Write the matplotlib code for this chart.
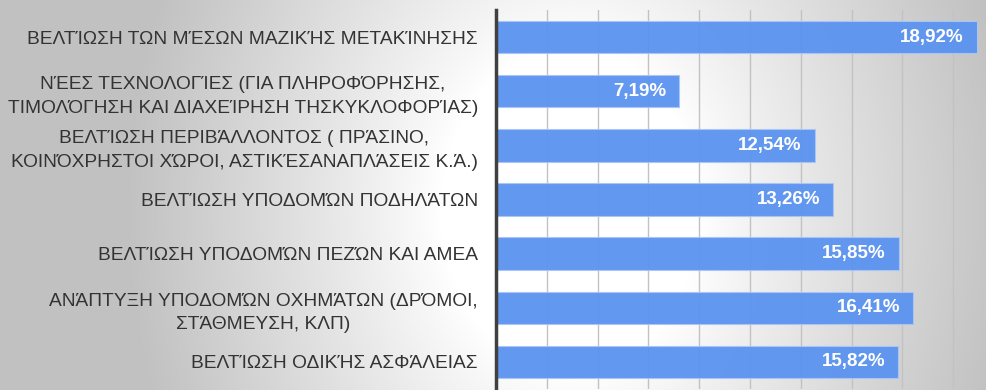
import numpy as np
import matplotlib.pyplot as plt

plt.rcParams['font.family'] = ['Liberation Sans', 'DejaVu Sans']

categories = [
    "ΒΕΛΤΊΩΣΗ ΤΩΝ ΜΈΣΩΝ ΜΑΖΙΚΉΣ ΜΕΤΑΚΊΝΗΣΗΣ",
    "ΝΈΕΣ ΤΕΧΝΟΛΟΓΊΕΣ (ΓΙΑ ΠΛΗΡΟΦΌΡΗΣΗΣ,\nΤΙΜΟΛΌΓΗΣΗ ΚΑΙ ΔΙΑΧΕΊΡΗΣΗ ΤΗΣΚΥΚΛΟΦΟΡΊΑΣ)",
    "ΒΕΛΤΊΩΣΗ ΠΕΡΙΒΆΛΛΟΝΤΟΣ ( ΠΡΆΣΙΝΟ,\nΚΟΙΝΌΧΡΗΣΤΟΙ ΧΏΡΟΙ, ΑΣΤΙΚΈΣΑΝΑΠΛΆΣΕΙΣ Κ.Ά.)",
    "ΒΕΛΤΊΩΣΗ ΥΠΟΔΟΜΏΝ ΠΟΔΗΛΆΤΩΝ",
    "ΒΕΛΤΊΩΣΗ ΥΠΟΔΟΜΏΝ ΠΕΖΏΝ ΚΑΙ ΑΜΕΑ",
    "ΑΝΆΠΤΥΞΗ ΥΠΟΔΟΜΏΝ ΟΧΗΜΆΤΩΝ (ΔΡΌΜΟΙ,\nΣΤΆΘΜΕΥΣΗ, ΚΛΠ)",
    "ΒΕΛΤΊΩΣΗ ΟΔΙΚΉΣ ΑΣΦΆΛΕΙΑΣ",
]
values = [18.92, 7.19, 12.54, 13.26, 15.85, 16.41, 15.82]
value_labels = ["18,92%", "7,19%", "12,54%", "13,26%", "15,85%", "16,41%", "15,82%"]

fig = plt.figure(figsize=(9.86, 3.9), dpi=100)

# radial grey-to-white backdrop
bg = fig.add_axes([0, 0, 1, 1], zorder=0)
w, h = 986, 390
xx, yy = np.meshgrid(np.arange(w), np.arange(h))
r = np.sqrt(((xx - 570) / 520.0) ** 2 + ((yy - 210) / 650.0) ** 2)
shade = 1 - 0.24 * np.clip((r - 0.25) / 0.6, 0, 1) ** 0.9
bg.imshow(np.dstack([shade] * 3), aspect='auto', interpolation='bilinear')
bg.axis('off')

ax = fig.add_axes([496 / w, 1 / h, 1 - 496 / w, 379 / h], zorder=1)
ax.set_facecolor('none')
y = np.arange(len(values))
ax.barh(y, values, height=0.6, color='#5b93f0', alpha=0.95,
        edgecolor='#a9c6f7', linewidth=0.8, zorder=2)
for yi, v, lab in zip(y, values, value_labels):
    ax.text(v - 0.5, yi, lab, ha='right', va='center', color='white',
            fontsize=13.5, fontweight='bold', zorder=3)

ax.set_ylim(len(values) - 0.5, -0.5)
ax.set_xlim(0, 490 / 25.4)
ax.set_xticks(np.arange(2, 20, 2))
ax.xaxis.grid(True, color='#c2c2c2', linewidth=1.0, zorder=1)
ax.set_axisbelow(True)
ax.tick_params(axis='x', length=0, labelbottom=False)
ax.tick_params(axis='y', length=0, pad=13)
ax.set_yticks(y)
ax.set_yticklabels(categories, fontsize=13.8, color='#333333',
                   multialignment='center', linespacing=1.5)
for s in ['top', 'right', 'bottom']:
    ax.spines[s].set_visible(False)
ax.spines['left'].set_color('#404040')
ax.spines['left'].set_linewidth(2.5)

fig.savefig('out.png', dpi=100)
